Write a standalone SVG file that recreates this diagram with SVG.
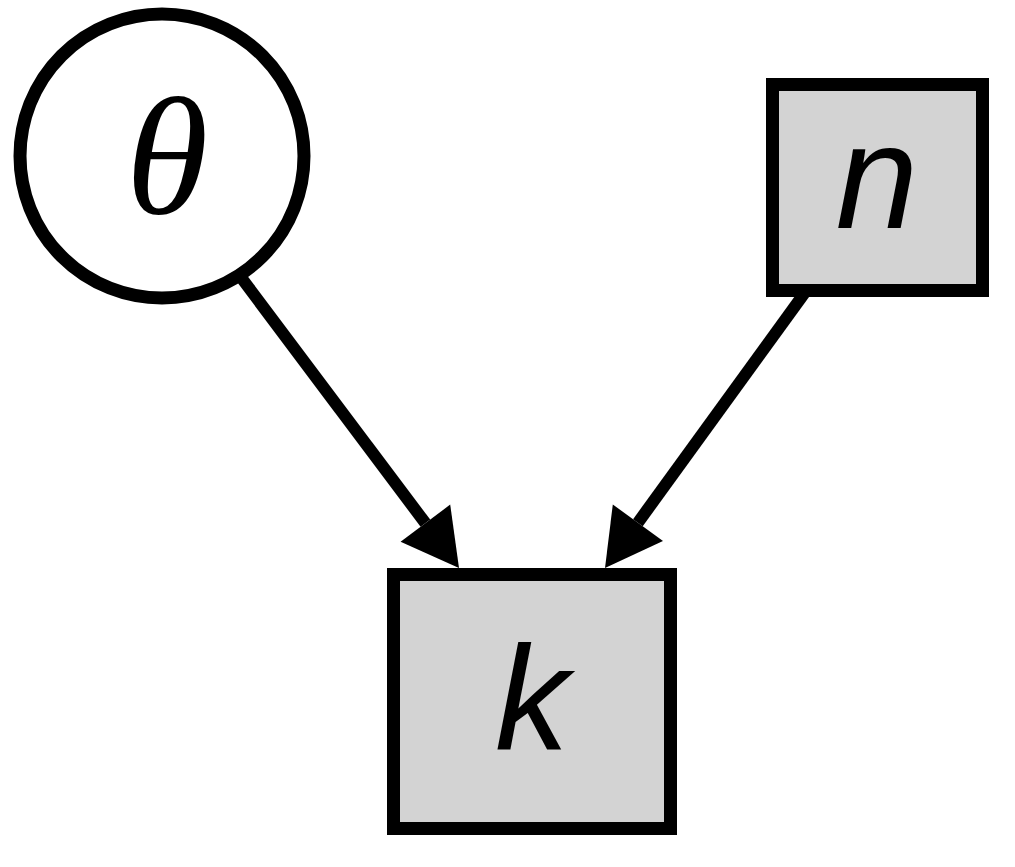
<svg xmlns="http://www.w3.org/2000/svg" width="1015" height="867" viewBox="0 0 1015 867">
<style>
.node{stroke:#000;stroke-width:13}
.obs{fill:#d3d3d3}
.lat{fill:#fff}
.edge{stroke:#000;stroke-width:12;fill:none}
.sym{font-family:"Liberation Sans",Arial,sans-serif;font-style:italic;font-size:148px;fill:#000;text-anchor:middle}
.greek{font-family:"Liberation Serif","Times New Roman",serif;font-style:italic;font-size:168px;fill:#000;text-anchor:middle}
</style>
<defs>
<marker id="arr" markerUnits="userSpaceOnUse" orient="auto" refX="0" refY="0" markerWidth="60" markerHeight="70" overflow="visible">
<path d="M0,-31 L56,0 L0,31 z" fill="#000"/>
</marker>
</defs>
<rect width="1015" height="867" fill="#fff"/>
<g id="edges">
<line class="edge" x1="240" y1="276" x2="425.4" y2="523.2" marker-end="url(#arr)"/>
<line class="edge" x1="806" y1="291" x2="637.9" y2="522.7" marker-end="url(#arr)"/>
</g>
<g id="node-theta">
<circle class="node lat" cx="162" cy="156" r="142"/>
<text class="greek" x="167" y="213">θ</text>
</g>
<g id="node-n">
<rect class="node obs" x="772.5" y="84.5" width="210" height="206"/>
<text class="sym" x="877" y="228">n</text>
</g>
<g id="node-k">
<rect class="node obs" x="393.5" y="574.5" width="277" height="254"/>
<text class="sym" x="532" y="750">k</text>
</g>
</svg>
